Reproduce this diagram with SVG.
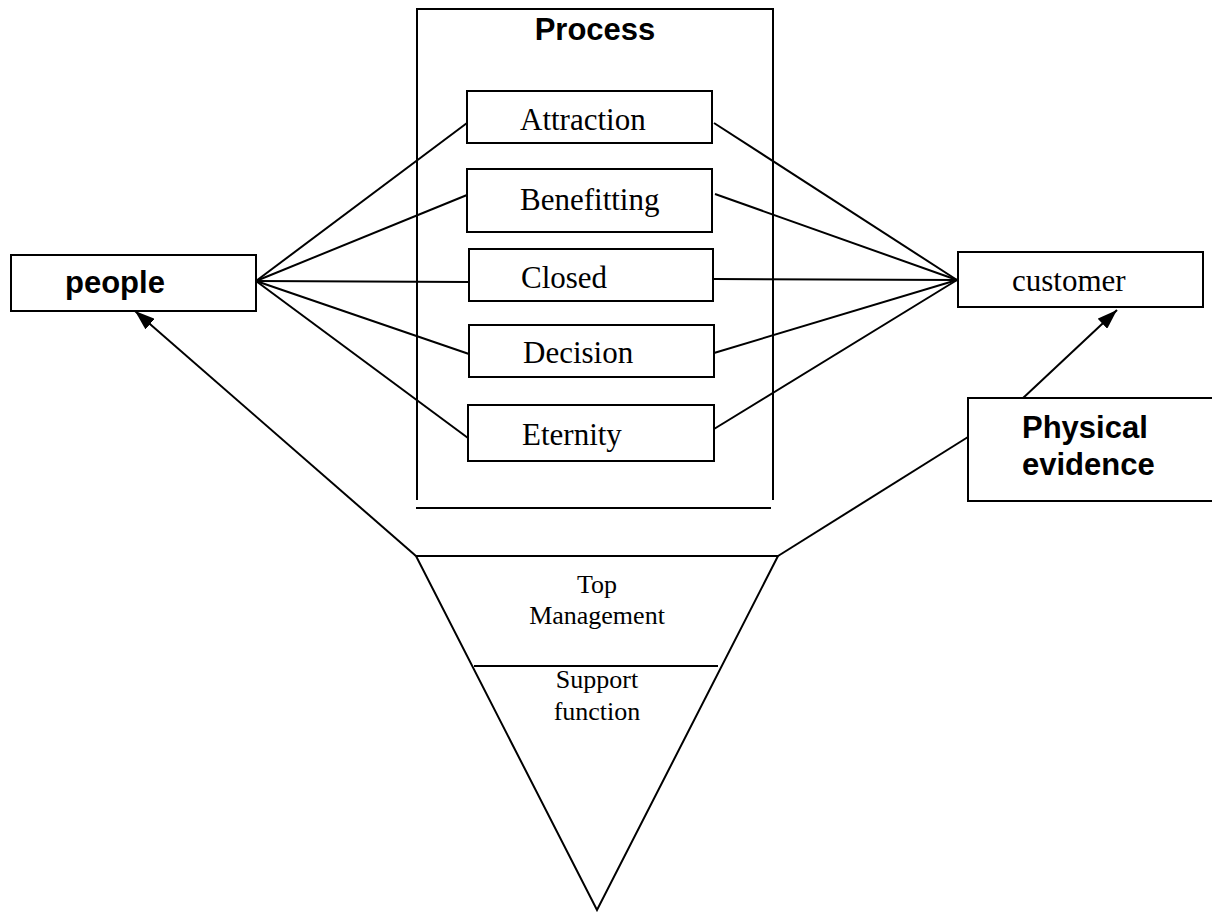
<svg xmlns="http://www.w3.org/2000/svg" width="1212" height="912" viewBox="0 0 1212 912">
<style>
.box{fill:#fff;stroke:#000;stroke-width:2}
.ln{fill:none;stroke:#000;stroke-width:2}
.serif{font-family:"Liberation Serif","Times New Roman",serif;font-size:31px;fill:#000}
.small{font-family:"Liberation Serif","Times New Roman",serif;font-size:26px;fill:#000;text-anchor:middle}
.bold{font-family:"Liberation Sans",Arial,sans-serif;font-size:31px;font-weight:bold;fill:#000}
</style>
<defs>
<marker id="arr" viewBox="0 0 20 14" refX="20" refY="7" markerWidth="20" markerHeight="14" markerUnits="userSpaceOnUse" orient="auto">
<path d="M0,0 L20,7 L0,14 z" fill="#000"/>
</marker>
</defs>
<rect width="1212" height="912" fill="#fff"/>
<g id="process-frame">
<path class="ln" d="M417,500 V9 H773 V500"/>
<line class="ln" x1="416" y1="508" x2="771" y2="508"/>
<text class="bold" x="595" y="40" text-anchor="middle">Process</text>
</g>
<g id="connectors">
<line class="ln" x1="256" y1="281" x2="467" y2="123"/>
<line class="ln" x1="256" y1="281" x2="467" y2="195"/>
<line class="ln" x1="256" y1="281" x2="469" y2="282"/>
<line class="ln" x1="256" y1="281" x2="469" y2="354"/>
<line class="ln" x1="256" y1="281" x2="468" y2="438"/>
<line class="ln" x1="714" y1="123" x2="957" y2="280"/>
<line class="ln" x1="715" y1="194" x2="957" y2="280"/>
<line class="ln" x1="714" y1="279" x2="957" y2="280"/>
<line class="ln" x1="714" y1="353" x2="957" y2="280"/>
<line class="ln" x1="714" y1="429" x2="957" y2="280"/>
<line class="ln" x1="416" y1="556" x2="135" y2="311" marker-end="url(#arr)"/>
<line class="ln" x1="1022" y1="399" x2="1117" y2="310" marker-end="url(#arr)"/>
<line class="ln" x1="778" y1="556" x2="968" y2="437"/>
</g>
<g id="people">
<rect class="box" x="11" y="255" width="245" height="56"/>
<text class="bold" x="65" y="293">people</text>
</g>
<g id="customer">
<rect class="box" x="958" y="252" width="245" height="55"/>
<text class="serif" x="1012" y="291">customer</text>
</g>
<g id="attraction">
<rect class="box" x="467" y="91" width="245" height="52"/>
<text class="serif" x="520" y="130">Attraction</text>
</g>
<g id="benefitting">
<rect class="box" x="467" y="169" width="245" height="63"/>
<text class="serif" x="520" y="210">Benefitting</text>
</g>
<g id="closed">
<rect class="box" x="469" y="249" width="244" height="52"/>
<text class="serif" x="521" y="288">Closed</text>
</g>
<g id="decision">
<rect class="box" x="469" y="325" width="245" height="52"/>
<text class="serif" x="523" y="363">Decision</text>
</g>
<g id="eternity">
<rect class="box" x="468" y="405" width="246" height="56"/>
<text class="serif" x="522" y="445">Eternity</text>
</g>
<g id="physical-evidence">
<rect class="box" x="968" y="398" width="250" height="103"/>
<text class="bold" x="1022" y="438">Physical</text>
<text class="bold" x="1022" y="475">evidence</text>
</g>
<g id="pyramid">
<path class="ln" d="M416,556 H778 L597,910 Z"/>
<line class="ln" x1="474" y1="666" x2="718" y2="666"/>
<text class="small" x="597" y="593">Top</text>
<text class="small" x="597" y="624">Management</text>
<text class="small" x="597" y="688">Support</text>
<text class="small" x="597" y="720">function</text>
</g>
</svg>
